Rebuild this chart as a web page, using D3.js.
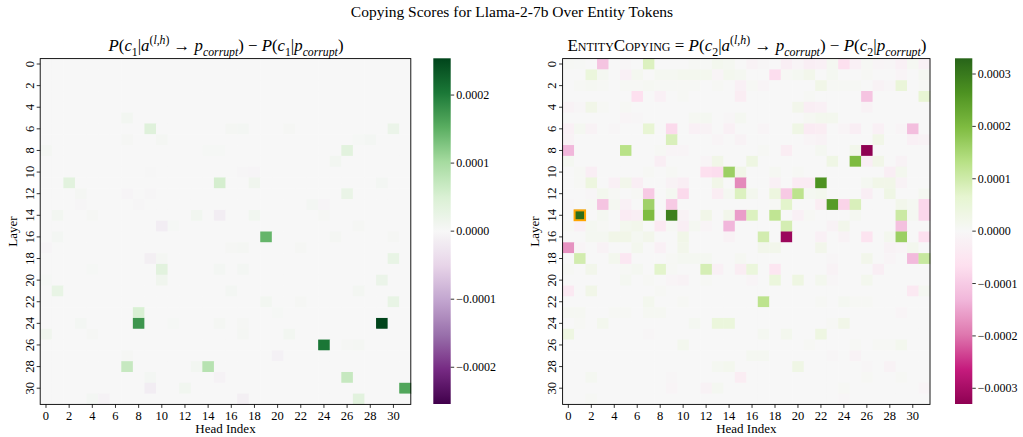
<!DOCTYPE html>
<html><head><meta charset="utf-8">
<script src="https://cdn.jsdelivr.net/npm/d3@7"></script>
<style>
body{margin:0;background:#fff;}
text{font-family:"Liberation Serif","DejaVu Serif",serif;fill:#000;}
</style></head>
<body><svg id="chart" width="1023" height="437"></svg>
<script>
// ---------------- DATA (values in units of 1e-6) ----------------
const UNIT = 1e-6;
const layers = [0,1,2,3,4,5,6,7,8,9,10,11,12,13,14,15,16,17,18,19,20,21,22,23,24,25,26,27,28,29,30,31];
const heads  = [0,1,2,3,4,5,6,7,8,9,10,11,12,13,14,15,16,17,18,19,20,21,22,23,24,25,26,27,28,29,30,31];
const layerTicks = [0,2,4,6,8,10,12,14,16,18,20,22,24,26,28,30];
const headTicks  = [0,2,4,6,8,10,12,14,16,18,20,22,24,26,28,30];
const leftColorbarTicks  = [-0.0002,-0.0001,0,0.0001,0.0002];
const rightColorbarTicks = [-0.0003,-0.0002,-0.0001,0,0.0001,0.0002,0.0003];
const leftLimit  = 0.000254;
const rightLimit = 0.00033;
const highlightCell = {layer:14, head:1};

// Left panel: P(c1|a->p_corrupt) - P(c1|p_corrupt)
const scoresC1 = [
[0,0,0,0,0,0,0,0, 0,0,0,0,0,0,0,0, 0,0,0,0,0,0,0,0, 0,0,0,0,0,0,0,0],
[0,0,0,0,0,0,0,0, 0,0,0,0,0,0,0,0, 0,0,0,0,0,0,0,0, 0,0,0,0,0,0,0,0],
[0,0,0,0,0,0,0,0, 0,0,0,0,0,0,0,0, 0,0,0,0,0,0,0,0, 0,0,0,0,0,0,0,0],
[0,0,0,0,0,0,0,0, 0,0,0,0,0,0,0,0, 0,0,0,0,0,0,0,0, 0,0,0,0,0,0,0,0],
[0,0,0,0,0,0,0,0, 0,0,0,0,0,0,0,0, 0,0,0,0,0,0,0,0, 0,0,0,0,0,0,0,0],
[0,0,0,0,0,0,0,8, 0,0,0,0,0,0,0,0, 0,0,0,0,0,0,0,0, 0,0,0,0,0,0,0,0],
[0,0,0,0,0,0,0,0, 0,40,0,0,0,0,0,0, 5,6,0,0,0,4,0,0, 0,0,0,0,0,0,20,0],
[0,0,0,0,0,0,0,4, 0,0,5,0,0,0,0,0, 0,0,0,0,0,0,0,0, 0,0,0,3,6,0,0,0],
[5,0,0,0,0,0,0,0, 0,0,0,0,0,0,3,3, 0,0,0,0,0,0,0,0, 0,0,35,0,0,0,0,0],
[0,0,0,0,0,0,0,0, 0,0,0,0,0,0,0,0, 0,0,0,0,0,0,0,0, 0,8,0,0,0,0,0,0],
[0,0,0,0,0,0,0,0, 0,-2,0,0,0,0,0,0, 0,-3,-4,0,0,0,0,0, 0,0,0,0,0,0,0,0],
[0,0,35,0,0,0,0,0, 0,0,0,0,0,0,0,55, 0,0,12,0,0,0,0,0, 0,0,0,0,0,6,0,0],
[0,0,0,5,0,0,0,-4, 0,-3,0,0,0,0,0,0, 0,0,0,0,0,0,0,0, 0,0,22,0,0,0,0,0],
[0,0,0,-3,0,0,0,0, -3,0,0,0,0,0,0,0, 0,0,0,0,0,0,0,6, -4,0,0,0,0,0,0,0],
[0,8,0,0,4,0,0,0, 0,0,0,0,0,10,0,-15, 0,0,10,0,0,0,0,0, 4,0,0,0,0,0,0,0],
[0,0,0,0,0,0,0,0, 0,0,-15,3,0,0,0,0, 0,0,0,0,0,0,0,0, 0,0,0,4,0,0,0,0],
[0,6,0,0,0,0,0,0, 0,0,0,0,0,0,0,0, 0,0,0,145,0,0,0,0, 0,5,0,0,0,0,4,0],
[-4,0,0,0,0,0,0,0, 0,0,0,0,0,0,0,0, 4,5,0,0,0,0,4,0, 0,0,0,0,0,0,0,0],
[0,0,0,0,0,0,0,0, 0,-12,5,0,0,0,0,0, 0,0,0,0,0,0,0,0, 0,0,0,0,0,0,25,0],
[0,0,0,0,3,0,0,0, 0,0,35,0,0,0,0,6, 0,6,0,0,0,0,0,0, 0,0,0,0,0,0,0,0],
[3,0,0,0,0,0,0,0, 0,0,12,0,0,0,0,0, 0,0,0,0,0,0,0,0, 0,0,0,0,0,20,0,0],
[0,25,0,0,0,0,0,0, 0,0,0,0,0,0,0,0, 6,0,0,0,0,0,0,0, 0,0,0,7,0,0,0,0],
[0,0,0,0,0,0,0,0, 0,0,0,0,0,0,0,0, 0,0,0,8,0,0,4,0, 0,0,0,0,0,0,25,0],
[0,0,0,0,0,0,0,0, 50,0,0,0,0,0,0,0, 0,0,0,0,3,0,0,0, 0,0,0,0,0,0,0,0],
[0,0,0,6,0,0,0,0, 175,0,0,3,0,0,0,5, 0,4,0,0,0,0,0,0, 0,0,0,0,0,254,0,0],
[12,0,0,0,4,0,0,0, 0,0,0,0,0,0,0,0, 0,5,0,0,0,8,0,0, 0,0,0,0,0,0,0,0],
[0,0,0,0,0,0,0,0, 0,0,0,0,0,0,0,0, 0,0,0,0,0,0,0,0, 205,0,4,5,0,0,0,0],
[0,0,0,0,0,0,0,4, 0,0,0,0,0,0,0,0, 0,0,0,0,-8,0,0,0, 0,0,0,0,0,0,0,0],
[0,0,0,0,0,0,0,70, 0,0,0,0,0,8,85,0, 0,0,0,0,0,0,0,0, 0,0,0,0,0,0,0,0],
[0,0,0,0,0,0,0,0, 0,6,0,0,0,0,0,-7, 0,0,0,0,0,0,0,0, 0,0,70,0,0,0,0,0],
[0,0,0,0,0,0,0,0, 0,-15,0,0,10,0,0,0, 0,0,0,0,0,0,0,0, 0,0,0,0,0,0,0,160],
[0,0,0,0,6,-7,0,0, 0,0,0,0,0,0,0,0, 0,-12,0,0,0,0,0,0, 0,0,0,35,0,0,0,0]
];

// Right panel: EntityCopying = P(c2|a->p_corrupt) - P(c2|p_corrupt)
const scoresC2 = [
[5,3,0,-110,0,-5,0,80, 0,0,0,5,3,15,10,0, -15,-5,0,-25,-8,-25,-20,10, -65,-20,5,-10,-5,-20,8,-20],
[0,0,45,10,0,-20,12,0, 10,10,15,15,15,-10,15,10, 0,0,-70,5,10,20,0,10, 0,0,5,0,0,-10,0,10],
[0,5,8,5,0,5,5,8, 5,5,5,5,0,5,0,-20, 5,-10,0,0,0,0,25,5, 5,5,0,-15,-5,50,0,5],
[0,0,0,0,0,0,-65,0, -20,0,5,0,0,0,0,-30, 0,0,0,0,0,5,0,0, 0,0,-110,0,0,0,0,60],
[-15,-5,25,5,0,5,0,0, 0,0,0,0,0,0,0,0, 0,0,0,0,20,-25,-20,0, 0,0,-15,0,0,0,0,0],
[0,0,0,0,0,-10,-5,0, 0,0,0,8,10,0,-5,10, 0,0,0,0,0,8,15,15, 0,0,0,0,0,0,0,0],
[-20,10,-15,0,-5,0,0,60, 0,-75,0,-20,-15,0,-20,0, 0,-8,0,0,30,-35,-30,0, -10,-25,0,-20,0,-8,-120,0],
[-15,0,0,0,0,0,0,0, 0,85,0,0,0,-8,0,-15, 0,0,0,0,0,-8,-15,0, 0,0,0,25,0,0,-20,-15],
[-130,0,0,0,0,130,0,0, 5,-10,-10,0,0,0,0,0, 0,5,0,-30,0,0,10,0, 0,20,-330,0,0,0,0,0],
[10,0,0,0,0,0,0,0, -25,0,0,0,-10,25,0,0, 35,0,0,0,0,0,0,30, 0,200,-25,25,0,-15,0,0],
[0,5,-25,0,0,0,0,5, 0,5,0,0,-65,-70,165,25, 0,0,8,0,5,0,0,0, 0,0,0,0,-25,15,0,0],
[0,5,40,0,-20,20,-25,0, 0,-15,-25,0,0,25,0,-178, 0,0,-20,0,-35,-35,264,0, 0,0,10,25,25,-15,0,0],
[0,0,-5,15,5,0,5,-100, 0,10,-75,0,0,-30,10,80, 15,0,40,-100,125,10,15,0, 0,0,-25,0,30,0,0,10],
[-5,0,5,-110,10,-20,0,160, 0,-100,0,0,0,0,0,0, 0,0,5,70,0,0,-30,250, -85,85,0,0,0,20,10,-80],
[0,317,0,10,0,-35,-25,198, 0,290,-15,0,25,0,20,-158, 80,0,120,0,-20,5,0,0, 0,10,0,0,0,105,10,-80],
[5,-20,10,5,0,15,20,0, -40,5,-25,10,-10,0,-130,0, 0,0,0,92,0,0,0,-15, 20,0,0,0,0,-115,0,0],
[0,0,10,10,25,25,10,20, 0,0,25,0,0,0,-15,0, 0,95,0,-315,0,0,-20,0, -15,0,-55,0,15,165,0,-65],
[-170,-10,0,-15,0,0,15,0, -20,0,20,0,0,0,0,0, 0,20,20,0,0,0,20,0, 0,0,0,0,-15,-10,15,0],
[0,95,0,0,15,-45,0,0, 0,5,10,10,10,0,0,8, 0,0,0,0,0,0,0,-5, 0,0,20,0,-10,0,-125,110],
[5,0,20,0,0,5,10,0, 70,5,0,0,90,-20,0,-30, 45,0,-50,0,0,0,0,-15, 0,0,0,-25,0,0,0,0],
[0,0,0,0,0,10,0,5, 0,-10,-15,0,5,0,0,0, -10,0,45,0,35,0,15,-5, 0,0,15,0,0,0,0,0],
[-40,0,25,0,0,0,0,0, 5,0,0,0,0,0,0,0, 0,0,0,0,0,0,0,0, 0,0,0,0,0,0,-40,10],
[0,0,0,0,0,0,0,15, 0,0,5,0,0,0,0,0, 0,125,0,0,0,0,5,0, 10,5,5,0,0,0,0,0],
[8,8,0,0,5,5,0,8, 8,0,0,0,0,0,0,0, 0,0,0,0,0,0,0,0, 0,0,0,0,0,-8,0,0],
[0,5,0,15,0,0,0,0, 0,0,0,10,0,45,45,0, 0,0,0,0,0,0,0,5, 25,0,0,0,0,0,0,0],
[35,0,0,0,0,0,0,-5, 0,0,0,0,0,0,0,0, 0,10,0,15,0,0,35,0, 0,0,0,0,0,0,0,0],
[0,0,0,0,0,0,0,0, 0,0,15,0,0,0,0,0, 0,0,0,0,0,5,0,0, 0,5,0,5,5,15,0,0],
[0,0,0,0,0,0,0,0, 0,0,0,0,0,0,0,0, 10,10,0,0,0,0,0,-5, 0,-15,0,0,0,0,0,0],
[0,0,0,0,0,0,0,0, 0,0,0,0,0,10,15,0, 0,0,0,0,30,0,0,0, 0,0,-5,0,-15,0,0,0],
[0,0,10,0,0,0,0,0, 0,-5,0,0,0,0,0,-30, 0,0,0,0,0,0,0,0, 0,0,5,0,0,5,0,0],
[0,0,0,0,0,0,0,0, 0,-10,0,0,-15,10,0,0, 0,0,0,0,0,0,0,0, 5,0,0,0,0,0,0,-10],
[0,0,5,0,0,0,0,0, 0,0,0,0,0,0,0,0, 0,0,0,0,0,0,0,0, -5,0,0,0,0,0,0,0]
];

// ---------------- DRAWING ----------------
const svg = d3.select("#chart");
svg.append("rect").attr("width",1023).attr("height",437).attr("fill","#fff");

const fmt = d3.format(".4f");
// matplotlib-like linear segmented colormaps from the 11-class ColorBrewer schemes
const cmapPRGn = d3.piecewise(d3.interpolateRgb, d3.schemePRGn[11]);
const cmapPiYG = d3.piecewise(d3.interpolateRgb, d3.schemePiYG[11]);

function mathText(g, x, y, size, segs){
  const t = g.append("text").attr("x",x).attr("y",y).attr("text-anchor","middle")
    .style("font-size",size+"px");
  let cur = 0;
  segs.forEach(([s, st])=>{
    const ts = t.append("tspan").text(s);
    let target = 0, fs = size;
    if (st.includes("sub")) { target = size*0.28; fs = size*0.7; }
    if (st.includes("sup")) { target = -size*0.42; fs = size*0.7; }
    ts.attr("dy", target - cur); cur = target;
    ts.style("font-size", fs+"px");
    if (st.includes("i")) ts.style("font-style","italic");
    if (st.includes("sc")) ts.style("font-variant","small-caps");
  });
  return t;
}

function panel(opt){
  const {data, x0, x1, y0, y1, interp, limit, cbx0, cbx1, cbTicks, titleSegs, titleX, titleSize, highlight} = opt;
  const g = svg.append("g");
  const x = d3.scaleBand().domain(heads).range([x0,x1]).padding(0);
  const y = d3.scaleBand().domain(layers).range([y0,y1]).padding(0);
  const color = d3.scaleDiverging(interp).domain([-limit,0,limit]).clamp(true);

  const cells = [];
  layers.forEach((l,ri)=>heads.forEach((h,ci)=>cells.push({l,h,v:data[ri][ci]*UNIT})));
  g.append("g").selectAll("rect").data(cells).join("rect")
    .attr("x",d=>x(d.h)).attr("y",d=>y(d.l))
    .attr("width",x.bandwidth()+0.4).attr("height",y.bandwidth()+0.4)
    .attr("fill",d=>color(d.v));

  if (highlight){
    g.append("rect").attr("x",x(highlight.head)+0.5).attr("y",y(highlight.layer)+0.5)
      .attr("width",x.bandwidth()-1).attr("height",y.bandwidth()-1)
      .attr("fill","none").attr("stroke","#ffa500").attr("stroke-width",2);
  }

  // frame
  g.append("rect").attr("x",x0).attr("y",y0).attr("width",x1-x0).attr("height",y1-y0)
    .attr("fill","none").attr("stroke","#000").attr("stroke-width",0.9);

  // x axis
  const xa = g.append("g").attr("transform",`translate(0,${y1})`);
  headTicks.forEach(h=>{
    const cx = x(h)+x.bandwidth()/2;
    xa.append("line").attr("x1",cx).attr("x2",cx).attr("y1",0).attr("y2",3.5).attr("stroke","#000").attr("stroke-width",0.8);
    xa.append("text").attr("x",cx).attr("y",15.5).attr("text-anchor","middle").style("font-size","12.5px").text(h);
  });
  g.append("text").attr("x",(x0+x1)/2).attr("y",433).attr("text-anchor","middle").style("font-size","13px").text("Head Index");

  // y axis
  const ya = g.append("g").attr("transform",`translate(${x0},0)`);
  layerTicks.forEach(l=>{
    const cy = y(l)+y.bandwidth()/2;
    ya.append("line").attr("x1",0).attr("x2",-3.5).attr("y1",cy).attr("y2",cy).attr("stroke","#000").attr("stroke-width",0.8);
    ya.append("text").attr("transform",`translate(-10.5,${cy}) rotate(-90)`).attr("text-anchor","middle")
      .attr("dominant-baseline","central").style("font-size","12.5px").text(l);
  });
  g.append("text").attr("transform",`translate(${x0-28},${(y0+y1)/2}) rotate(-90)`).attr("text-anchor","middle")
    .attr("dominant-baseline","central").style("font-size","13px").text("Layer");

  // title
  mathText(g, titleX, 51, titleSize, titleSegs);

  // colorbar
  const cy0 = 58.3, cy1 = 404;
  const cbScale = d3.scaleLinear().domain([-limit, limit]).range([cy1, cy0]);
  const gid = "grad"+Math.round(cbx0);
  const grad = svg.append("defs").append("linearGradient").attr("id",gid)
    .attr("x1",0).attr("x2",0).attr("y1",1).attr("y2",0);
  const stops = 40;
  for (let i=0;i<=stops;i++){
    grad.append("stop").attr("offset",i/stops).attr("stop-color",color(-limit+2*limit*i/stops));
  }
  g.append("rect").attr("x",cbx0).attr("y",cy0).attr("width",cbx1-cbx0).attr("height",cy1-cy0)
    .attr("fill",`url(#${gid})`);
  const ca = g.append("g").attr("transform",`translate(${cbx1},0)`);
  cbTicks.forEach(t=>{
    const ty = cbScale(t);
    ca.append("line").attr("x1",0).attr("x2",3.5).attr("y1",ty).attr("y2",ty).attr("stroke","#000").attr("stroke-width",0.8);
    ca.append("text").attr("x",5.5).attr("y",ty).attr("dominant-baseline","central").style("font-size","12px")
      .text(t===0 ? "0.0000" : fmt(t));
  });
}

const leftTitle = [["P","i"],["(","n"],["c","i"],["1","sub"],["|","n"],["a","i"],["(","sup"],["l","supi"],[",","sup"],["h","supi"],[")","sup"],
  [" \u2192 ","n"],["p","i"],["corrupt","subi"],[")","n"],[" \u2212 ","n"],["P","i"],["(","n"],["c","i"],["1","sub"],["|","n"],["p","i"],["corrupt","subi"],[")","n"]];
const rightTitle = [["EntityCopying","sc"],[" = ","n"],["P","i"],["(","n"],["c","i"],["2","sub"],["|","n"],["a","i"],["(","sup"],["l","supi"],[",","sup"],["h","supi"],[")","sup"],
  [" \u2192 ","n"],["p","i"],["corrupt","subi"],[")","n"],[" \u2212 ","n"],["P","i"],["(","n"],["c","i"],["2","sub"],["|","n"],["p","i"],["corrupt","subi"],[")","n"]];

panel({data:scoresC1, x0:40.2, x1:410.8, y0:58.6, y1:404.4, interp:cmapPRGn, limit:leftLimit,
  cbx0:433.3, cbx1:450.7, cbTicks:leftColorbarTicks, titleSegs:leftTitle, titleX:226, titleSize:16.8});
panel({data:scoresC2, x0:562.6, x1:930, y0:58.6, y1:404.4, interp:cmapPiYG, limit:rightLimit,
  cbx0:955, cbx1:972.3, cbTicks:rightColorbarTicks, titleSegs:rightTitle, titleX:747, titleSize:17, highlight:highlightCell});

svg.append("text").attr("x",512).attr("y",17).attr("text-anchor","middle").style("font-size","15.5px")
  .text("Copying Scores for Llama-2-7b Over Entity Tokens");
</script></body></html>
